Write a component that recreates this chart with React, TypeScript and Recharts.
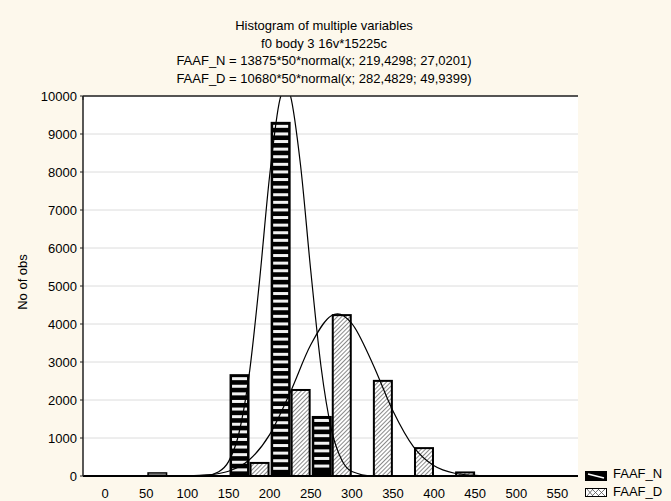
import React from "react";
import {
  ComposedChart,
  Bar,
  Line,
  XAxis,
  YAxis,
  CartesianGrid,
} from "recharts";

// histogram bins (centre of each 50-wide bin)
const binCenters = [75, 175, 225, 275, 325, 375, 425];
const faafN = [100, 2680, 9320, 1580, null, null, null];
const faafD = [null, 370, 2290, 4260, 2530, 760, 120];

// fitted normal curves
const curveNx = [100, 125, 137.5, 150, 162.5, 175, 187.5, 200, 212.5, 219.4, 225, 237.5, 250, 262.5, 275, 287.5, 300, 325, 350];
const curveNy = [1, 22, 103, 378, 1112, 2653, 5096, 7908, 9911, 10243, 10028, 8191, 5400, 2876, 1235, 429, 120, 5, 0];
const curveDx = [100, 125, 150, 175, 200, 225, 250, 275, 282.5, 300, 325, 350, 375, 400, 425, 450, 475, 500];
const curveDy = [5, 30, 126, 421, 1090, 2200, 3453, 4218, 4266, 4011, 2969, 1711, 767, 268, 73, 15, 3, 0];

const xTicks = [0, 50, 100, 150, 200, 250, 300, 350, 400, 450, 500, 550];
const yTicks = [0, 1000, 2000, 3000, 4000, 5000, 6000, 7000, 8000, 9000, 10000];
const xDomain = [-27, 575];

const titleLines = [
  "Histogram of multiple variables",
  "f0 body 3 16v*15225c",
  "FAAF_N = 13875*50*normal(x; 219,4298; 27,0201)",
  "FAAF_D = 10680*50*normal(x; 282,4829; 49,9399)",
];

const bins = binCenters.map((x, i) => ({ x, n: faafN[i], d: faafD[i] }));
const curveN = curveNx.map((x, i) => ({ x, v: curveNy[i] }));
const curveD = curveDx.map((x, i) => ({ x, v: curveDy[i] }));

const font = "'Liberation Sans', Arial, sans-serif";

function StripedBar(props: any) {
  const { x, y, width, height } = props;
  if (!height || height <= 0) return null;
  if (height < 8) {
    return <rect x={x + 0.75} y={y + 0.75} width={width - 1.5} height={height - 1.5} fill="#eee" stroke="#000" strokeWidth={1.5} />;
  }
  const stripes = [];
  for (let yy = y + 3; yy + 3 <= y + height - 2; yy += 7.6) {
    stripes.push(<rect key={yy} x={x + 2.5} y={yy} width={width - 5} height={3} fill="#f2f2f2" />);
  }
  return (
    <g>
      <rect x={x} y={y} width={width} height={height} fill="#000" />
      {stripes}
    </g>
  );
}

function HatchBar(props: any) {
  const { x, y, width, height } = props;
  if (!height || height <= 0) return null;
  return <rect x={x + 1} y={y + 1} width={width - 2} height={height - 1} fill="url(#diagHatch)" stroke="#000" strokeWidth={2} />;
}

export default function App() {
  return (
    <div style={{ position: "relative", width: 671, height: 501, background: "#fdf8ec", fontFamily: font, color: "#000" }}>
      <style>{"body{margin:0}"}</style>
      <ComposedChart width={671} height={501} data={bins} margin={{ top: 96, right: 93, bottom: 0, left: 0 }} barGap={0}>
        <defs>
          <pattern id="diagHatch" width="3" height="10" patternUnits="userSpaceOnUse" patternTransform="rotate(45)">
            <rect width="3" height="10" fill="#fff" />
            <line x1="0.5" y1="0" x2="0.5" y2="10" stroke="#8a8a8a" strokeWidth={1} />
          </pattern>
        </defs>
        <CartesianGrid vertical={false} stroke="#dcdcdc" fill="#fff" />
        <XAxis
          dataKey="x"
          type="number"
          domain={xDomain}
          ticks={xTicks}
          allowDataOverflow
          height={25}
          tickSize={6}
          tickMargin={7}
          tickLine={false}
          axisLine={{ stroke: "#000", strokeWidth: 2 }}
          tick={{ fill: "#000", fontSize: 13, fontFamily: font }}
        />
        <XAxis xAxisId="bars" dataKey="x" type="number" domain={xDomain} allowDataOverflow hide />
        <XAxis
          xAxisId="top"
          orientation="top"
          mirror
          type="number"
          domain={xDomain}
          ticks={xTicks}
          tickSize={4}
          tickFormatter={() => ""}
          axisLine={{ stroke: "#222", strokeWidth: 1.5 }}
          tickLine={{ stroke: "#222" }}
        />
        <YAxis
          type="number"
          domain={[0, 10000]}
          ticks={yTicks}
          allowDataOverflow
          width={83}
          tickSize={3}
          tickMargin={3}
          axisLine={{ stroke: "#222", strokeWidth: 1.5 }}
          tickLine={{ stroke: "#222" }}
          tick={{ fill: "#000", fontSize: 13, fontFamily: font }}
        />
        <YAxis
          yAxisId="r"
          orientation="right"
          mirror
          width={0}
          domain={[0, 10000]}
          tick={false}
          tickLine={false}
          axisLine={{ stroke: "#222", strokeWidth: 1.5 }}
        />
        <Bar xAxisId="bars" dataKey="n" name="FAAF_N" barSize={20} shape={<StripedBar />} isAnimationActive={false} />
        <Bar xAxisId="bars" dataKey="d" name="FAAF_D" barSize={20} shape={<HatchBar />} isAnimationActive={false} />
        <Line data={curveN} dataKey="v" type="monotone" stroke="#000" strokeWidth={1.2} dot={false} activeDot={false} isAnimationActive={false} />
        <Line data={curveD} dataKey="v" type="monotone" stroke="#000" strokeWidth={1.2} dot={false} activeDot={false} isAnimationActive={false} />
      </ComposedChart>

      <div style={{ position: "absolute", left: 0, top: 17, width: 648, textAlign: "center", fontSize: 13, lineHeight: "17.5px" }}>
        {titleLines.map((t) => (
          <div key={t}>{t}</div>
        ))}
      </div>

      <div style={{ position: "absolute", left: 22, top: 282, fontSize: 13, transform: "translate(-50%, -50%) rotate(-90deg)", whiteSpace: "nowrap" }}>
        No of obs
      </div>

      <div style={{ position: "absolute", left: 585, top: 465, fontSize: 13, lineHeight: "18px" }}>
        <div style={{ display: "flex", alignItems: "center" }}>
          <svg width={22} height={10} style={{ marginRight: 6, marginTop: 4 }}>
            <rect x={0} y={0} width={22} height={10} fill="#000" />
            <line x1={3} y1={3} x2={19} y2={7} stroke="#fff" strokeWidth={1.5} />
          </svg>
          <span>FAAF_N</span>
        </div>
        <div style={{ display: "flex", alignItems: "center" }}>
          <svg width={22} height={9} style={{ marginRight: 6 }}>
            <rect x={0.5} y={0.5} width={21} height={8} fill="#fff" stroke="#000" strokeWidth={1} />
            <path d="M2 8 L8 1 M7 8 L14 1 M13 8 L20 1 M2 1 L8 8 M7 1 L14 8 M13 1 L20 8" stroke="#555" strokeWidth={0.8} />
          </svg>
          <span>FAAF_D</span>
        </div>
      </div>
    </div>
  );
}
